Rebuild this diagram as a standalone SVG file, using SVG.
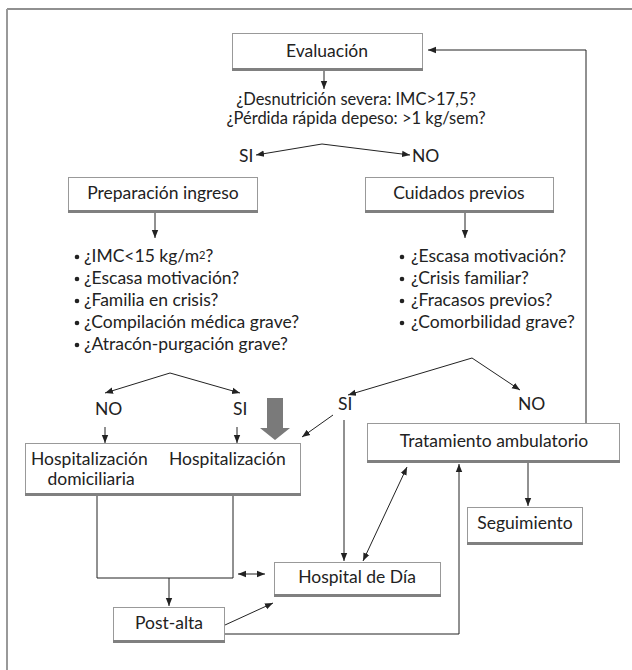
<svg xmlns="http://www.w3.org/2000/svg" width="632" height="670" viewBox="0 0 632 670">
<defs>
<style>
text{font-family:"Lato","Open Sans","Liberation Sans",sans-serif;font-size:17.5px;fill:#222}
.c{text-anchor:middle}
.q{font-size:16.5px}
.box{fill:#fff;stroke:#999;stroke-width:1}
.sh{fill:#808080}
.ln{fill:none;stroke:#222;stroke-width:1}
.dot{fill:#222}
</style>
<marker id="ah" viewBox="0 0 10 10" refX="10" refY="5" markerWidth="8" markerHeight="8" markerUnits="userSpaceOnUse" orient="auto-start-reverse">
<path d="M0,1 L10,5 L0,9 z" fill="#222"/>
</marker>
</defs>
<rect width="632" height="670" fill="#fff"/>
<g id="frame">
<line x1="7" y1="9" x2="632" y2="9" stroke="#222" stroke-width="1.2"/>
<line x1="7" y1="9" x2="7" y2="670" stroke="#999" stroke-width="2"/>
</g>
<g id="evaluacion">
<rect class="box" x="232.5" y="33.5" width="190" height="35"/>
<rect class="sh" x="232" y="68" width="191" height="3"/>
<text class="c" x="327" y="57">Evaluación</text>
</g>
<g id="pregunta">
<text class="c q" x="356" y="105">¿Desnutrición severa: IMC&gt;17,5?</text>
<text class="c q" x="356" y="124">¿Pérdida rápida depeso: &gt;1 kg/sem?</text>
<text x="239" y="162">SI</text>
<text x="412" y="162">NO</text>
</g>
<g id="preparacion">
<rect class="box" x="68.5" y="177.5" width="189" height="33"/>
<rect class="sh" x="68" y="210" width="190" height="3"/>
<text class="c" x="163" y="199">Preparación ingreso</text>
</g>
<g id="cuidados">
<rect class="box" x="365.5" y="177.5" width="188" height="33"/>
<rect class="sh" x="365" y="210" width="189" height="3"/>
<text class="c" x="459" y="199">Cuidados previos</text>
</g>
<g id="criterios-ingreso">
<circle class="dot" cx="77" cy="257" r="2.3"/>
<circle class="dot" cx="77" cy="279" r="2.3"/>
<circle class="dot" cx="77" cy="301" r="2.3"/>
<circle class="dot" cx="77" cy="323" r="2.3"/>
<circle class="dot" cx="77" cy="345" r="2.3"/>
<text x="84" y="262">¿IMC&lt;15 kg/m<tspan font-size="11" dy="-3">2</tspan><tspan dy="3">?</tspan></text>
<text x="84" y="284">¿Escasa motivación?</text>
<text x="84" y="306">¿Familia en crisis?</text>
<text x="84" y="328">¿Compilación médica grave?</text>
<text x="84" y="350">¿Atracón-purgación grave?</text>
</g>
<g id="criterios-previos">
<circle class="dot" cx="402" cy="257" r="2.3"/>
<circle class="dot" cx="402" cy="279" r="2.3"/>
<circle class="dot" cx="402" cy="301" r="2.3"/>
<circle class="dot" cx="402" cy="323" r="2.3"/>
<text x="411" y="262">¿Escasa motivación?</text>
<text x="411" y="284">¿Crisis familiar?</text>
<text x="411" y="306">¿Fracasos previos?</text>
<text x="411" y="328">¿Comorbilidad grave?</text>
</g>
<g id="labels-ramas">
<text x="95" y="415">NO</text>
<text x="233" y="415">SI</text>
<text x="338" y="410">SI</text>
<text x="518" y="410">NO</text>
</g>
<g id="hospitalizacion">
<rect class="box" x="25.5" y="443.5" width="275" height="50"/>
<rect class="sh" x="25" y="493" width="276" height="3"/>
<text x="31" y="465">Hospitalización</text>
<text class="c" x="91" y="485">domiciliaria</text>
<text x="169" y="465">Hospitalización</text>
</g>
<g id="tratamiento">
<rect class="box" x="367.5" y="423.5" width="252" height="37"/>
<rect class="sh" x="367" y="460" width="253" height="3"/>
<text class="c" x="494" y="447">Tratamiento ambulatorio</text>
</g>
<g id="seguimiento">
<rect class="box" x="467.5" y="507.5" width="115" height="35"/>
<rect class="sh" x="467" y="542" width="116" height="3"/>
<text class="c" x="525" y="529">Seguimiento</text>
</g>
<g id="hospital-dia">
<rect class="box" x="274.5" y="562.5" width="166" height="32"/>
<rect class="sh" x="274" y="594" width="167" height="3"/>
<text class="c" x="357" y="583">Hospital de Día</text>
</g>
<g id="post-alta">
<rect class="box" x="113.5" y="607.5" width="111" height="33"/>
<rect class="sh" x="113" y="640" width="112" height="3"/>
<text class="c" x="169" y="629">Post-alta</text>
</g>
<g id="flecha-gris">
<path d="M267,398 H283 V428 H290 L275,440 L260,428 H267 Z" fill="#7a7a7a"/>
</g>
<g id="connectors">
<line class="ln" x1="324" y1="71" x2="324" y2="89" marker-end="url(#ah)"/>
<line class="ln" x1="322" y1="144" x2="256" y2="155" marker-end="url(#ah)"/>
<line class="ln" x1="322" y1="144" x2="410" y2="155" marker-end="url(#ah)"/>
<polyline class="ln" points="586,423 586,50 428,50" marker-end="url(#ah)"/>
<line class="ln" x1="155" y1="213" x2="155" y2="238" marker-end="url(#ah)"/>
<line class="ln" x1="465" y1="213" x2="465" y2="238" marker-end="url(#ah)"/>
<line class="ln" x1="170" y1="373" x2="105" y2="393" marker-end="url(#ah)"/>
<line class="ln" x1="170" y1="373" x2="240" y2="393" marker-end="url(#ah)"/>
<line class="ln" x1="105" y1="427" x2="105" y2="443" marker-end="url(#ah)"/>
<line class="ln" x1="237" y1="427" x2="237" y2="443" marker-end="url(#ah)"/>
<line class="ln" x1="472" y1="358" x2="348" y2="395" marker-end="url(#ah)"/>
<line class="ln" x1="472" y1="358" x2="520" y2="390" marker-end="url(#ah)"/>
<line class="ln" x1="333" y1="415" x2="302" y2="437" marker-end="url(#ah)"/>
<line class="ln" x1="344" y1="420" x2="344" y2="561" marker-end="url(#ah)"/>
<line class="ln" x1="363" y1="561" x2="407" y2="467" marker-start="url(#ah)" marker-end="url(#ah)"/>
<line class="ln" x1="528" y1="463" x2="528" y2="506" marker-end="url(#ah)"/>
<polyline class="ln" points="97,496 97,578 233,578 233,496"/>
<line class="ln" x1="169" y1="578" x2="169" y2="606" marker-end="url(#ah)"/>
<line class="ln" x1="238" y1="574" x2="265" y2="574" marker-start="url(#ah)" marker-end="url(#ah)"/>
<line class="ln" x1="225" y1="625" x2="273" y2="603" marker-end="url(#ah)"/>
<polyline class="ln" points="225,634 459,634 459,464" marker-end="url(#ah)"/>
</g>
</svg>
